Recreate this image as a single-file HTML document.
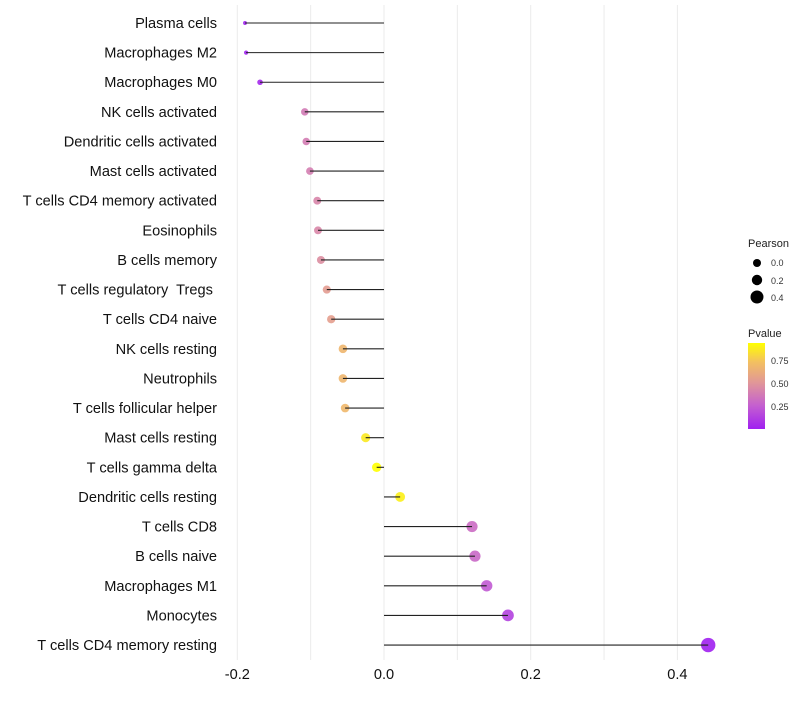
<!DOCTYPE html>
<html><head><meta charset="utf-8"><style>
body{margin:0;background:#fff;font-family:"Liberation Sans",sans-serif}
svg text{font-family:"Liberation Sans",sans-serif;white-space:pre}
</style></head><body>
<svg id="chart" width="800" height="700" xmlns="http://www.w3.org/2000/svg">
<defs><linearGradient id="pg" x1="0" y1="1" x2="0" y2="0">
<stop offset="0" stop-color="#a020f0"/><stop offset="0.27" stop-color="#c45fd0"/><stop offset="0.53" stop-color="#e0959a"/><stop offset="0.78" stop-color="#f3c060"/><stop offset="1" stop-color="#ffff00"/>
</linearGradient></defs>
<g id="grid"></g>
<g id="marks"></g>
<g id="ylabels"></g>
<g id="xlabels"></g>
<g>
<text x="748" y="247" font-size="11" fill="#222">Pearson</text>
<circle cx="757" cy="263" r="4" fill="#000"/>
<text x="771" y="266" font-size="9" fill="#333">0.0</text>
<circle cx="757" cy="280" r="5.2" fill="#000"/>
<text x="771" y="284" font-size="9" fill="#333">0.2</text>
<circle cx="757" cy="297" r="6.5" fill="#000"/>
<text x="771" y="301" font-size="9" fill="#333">0.4</text>
</g>
<g>
<text x="748" y="337" font-size="11" fill="#222">Pvalue</text>
<rect x="748" y="343" width="17" height="86" fill="url(#pg)"/>
<text x="771" y="364" font-size="9" fill="#333">0.75</text>
<text x="771" y="387" font-size="9" fill="#333">0.50</text>
<text x="771" y="410" font-size="9" fill="#333">0.25</text>
</g>
</svg>
<script>
const categories=["Plasma cells","Macrophages M2","Macrophages M0","NK cells activated","Dendritic cells activated","Mast cells activated","T cells CD4 memory activated","Eosinophils","B cells memory","T cells regulatory  Tregs ","T cells CD4 naive","NK cells resting","Neutrophils","T cells follicular helper","Mast cells resting","T cells gamma delta","Dendritic cells resting","T cells CD8","B cells naive","Macrophages M1","Monocytes","T cells CD4 memory resting"];
const pearson=[-0.1895,-0.188,-0.169,-0.108,-0.106,-0.101,-0.091,-0.090,-0.086,-0.078,-0.072,-0.056,-0.056,-0.053,-0.025,-0.010,0.022,0.120,0.124,0.140,0.169,0.442];
const pvalue=[0.02,0.02,0.04,0.38,0.39,0.40,0.43,0.44,0.47,0.54,0.55,0.68,0.68,0.69,0.87,0.94,0.89,0.32,0.30,0.24,0.14,0.01];
const xTicks=[-0.2,0,0.2,0.4];
const xTickLabels=["-0.2","0.0","0.2","0.4"];
const NS="http://www.w3.org/2000/svg";
const x=v=>384+v*733.5;
const y=i=>23+i*29.62;
const pmin=0.01,pmax=0.94;
const stops=[[0,[160,32,240]],[0.27,[196,95,208]],[0.53,[224,149,154]],[0.78,[243,192,96]],[1,[255,255,0]]];
function col(p){let t=Math.max(0,Math.min(1,(p-pmin)/(pmax-pmin)));for(let k=1;k<stops.length;k++){if(t<=stops[k][0]){const a=stops[k-1],b=stops[k];const f=(t-a[0])/(b[0]-a[0]);return "rgb("+a[1].map((c,j)=>Math.round(c+(b[1][j]-c)*f)).join(",")+")";}}return "rgb(255,255,0)";}
function rad(v){return 1.8+5.4*Math.sqrt(Math.max(0,(v+0.19)/0.632));}
function mk(t,at,parent){const e=document.createElementNS(NS,t);for(const k in at)e.setAttribute(k,at[k]);parent.appendChild(e);return e;}
const grid=document.getElementById('grid'),marks=document.getElementById('marks'),yl=document.getElementById('ylabels'),xl=document.getElementById('xlabels');
for(let g=-0.2;g<=0.4001;g+=0.1){const l=mk('line',{x1:x(g),x2:x(g),y1:5,y2:660,stroke:'#ebebeb','stroke-width':1},grid);}
categories.forEach((c,i)=>{
const cy=y(i);
const pt=mk('circle',{cx:x(pearson[i]),cy:cy,r:rad(pearson[i]),fill:col(pvalue[i]),'fill-opacity':0.9},marks);


const ln=mk('line',{x1:x(0),x2:x(pearson[i]),y1:cy,y2:cy,stroke:'#222','stroke-width':1.1},marks);


const tx=mk('text',{x:217,y:cy+5,'text-anchor':'end','font-size':14.6,fill:'#111'},yl);
tx.textContent=c;


});
xTicks.forEach((v,i)=>{const t=mk('text',{x:x(v),y:679,'text-anchor':'middle','font-size':14.6,fill:'#111'},xl);t.textContent=xTickLabels[i];

});
</script>
</body></html>
